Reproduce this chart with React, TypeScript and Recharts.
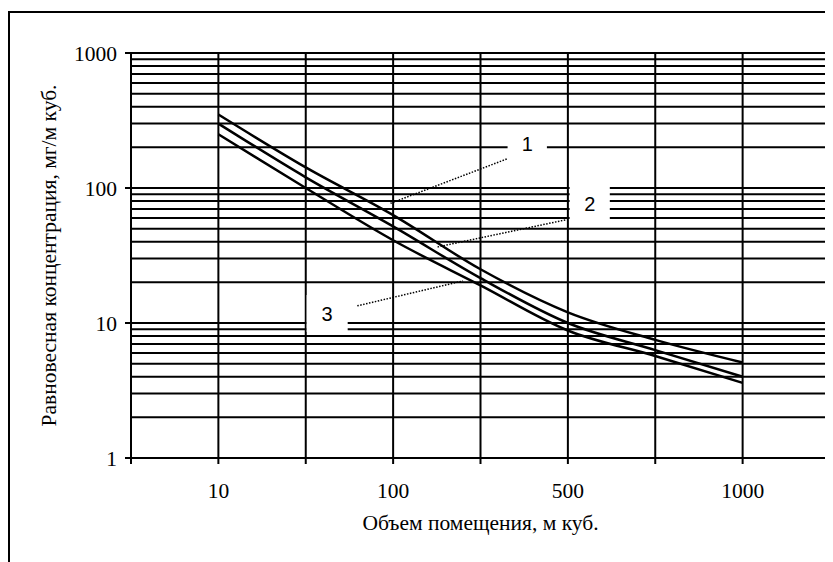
import React from 'react';
import {
  LineChart,
  Line,
  XAxis,
  YAxis,
  CartesianGrid,
  ReferenceArea,
  ReferenceLine,
} from 'recharts';

// positions 1..7 on the x scale, labelled every other one
const volumes = ['10', '30', '100', '300', '500', '700', '1000'];
const xTickLabels = ['', '10', '', '100', '', '500', '', '1000', ''];
const curve1 = [350, 142, 63, 25, 12, 7.5, 5.1];
const curve2 = [300, 120, 52, 21.5, 10, 6.3, 4];
const curve3 = [250, 100, 41, 19, 8.8, 5.7, 3.6];
const yTicks = [1, 10, 100, 1000];
const yGridValues = [
  2, 3, 4, 5, 6, 7, 8, 9, 10,
  20, 30, 40, 50, 60, 70, 80, 90, 100,
  200, 300, 400, 500, 600, 700, 800, 900, 1000,
];

const data = volumes.map((v, i) => ({
  pos: i + 1,
  volume: v,
  c1: curve1[i],
  c2: curve2[i],
  c3: curve3[i],
}));

const serif = '"Liberation Serif", "Times New Roman", serif';
const sans = '"Liberation Sans", Arial, sans-serif';
const labelStyle = { fontFamily: sans, fontSize: 20, fill: '#000' };
const textSize = 21.5;

export default function App() {
  return (
    <div style={{ position: 'relative', width: 825, height: 554, overflow: 'hidden' }}>
      <div
        style={{
          position: 'absolute',
          left: 0,
          top: 3,
          width: 1000,
          height: 1000,
          borderLeft: '2px solid #000',
          borderTop: '2px solid #000',
        }}
      />
      <LineChart
        width={825}
        height={554}
        data={data}
        margin={{ top: 45, right: 3, bottom: 24, left: 36 }}
        style={{ position: 'absolute', left: 0, top: 0 }}
      >
        <CartesianGrid
          stroke="#000"
          strokeWidth={2}
          horizontalValues={yGridValues}
          verticalValues={[0, 1, 2, 3, 4, 5, 6, 7, 8]}
        />
        <XAxis
          type="number"
          dataKey="pos"
          domain={[0, 8]}
          ticks={[0, 1, 2, 3, 4, 5, 6, 7, 8]}
          tickFormatter={(v: number) => xTickLabels[v]}
          height={80}
          tickSize={6}
          tickMargin={19}
          interval={0}
          axisLine={{ stroke: '#000', strokeWidth: 2 }}
          tickLine={{ stroke: '#000', strokeWidth: 2 }}
          tick={{ fill: '#000', fontFamily: serif, fontSize: textSize }}
          label={{
            value: 'Объем помещения, м куб.',
            position: 'insideBottom',
            offset: 8,
            style: { fill: '#000', fontFamily: serif, fontSize: textSize },
          }}
        />
        <YAxis
          scale="log"
          domain={[1, 1000]}
          ticks={yTicks}
          allowDataOverflow
          width={87}
          tickSize={6}
          tickMargin={8}
          interval={0}
          axisLine={{ stroke: '#000', strokeWidth: 2 }}
          tickLine={{ stroke: '#000', strokeWidth: 2 }}
          tick={{ fill: '#000', fontFamily: serif, fontSize: textSize }}
          label={{
            value: 'Равновесная концентрация, мг/м куб.',
            angle: -90,
            position: 'insideLeft',
            offset: 4,
            style: { fill: '#000', fontFamily: serif, fontSize: textSize, textAnchor: 'middle' },
          }}
        />
        <ReferenceArea
          x1={4.31}
          x2={4.76}
          y1={167}
          y2={268}
          fill="#fff"
          fillOpacity={1}
          stroke="none"
          label={{ value: '1', position: 'center', style: labelStyle }}
        />
        <ReferenceArea
          x1={5.02}
          x2={5.48}
          y1={56}
          y2={103}
          fill="#fff"
          fillOpacity={1}
          stroke="none"
          label={{ value: '2', position: 'center', style: labelStyle }}
        />
        <ReferenceArea
          x1={2.01}
          x2={2.48}
          y1={8.6}
          y2={16.1}
          fill="#fff"
          fillOpacity={1}
          stroke="none"
          label={{ value: '3', position: 'center', style: labelStyle }}
        />
        <ReferenceLine
          segment={[{ x: 4.3, y: 164 }, { x: 2.97, y: 77 }]}
          stroke="#000"
          strokeWidth={1.5}
          strokeDasharray="1.5 1.5"
        />
        <ReferenceLine
          segment={[{ x: 4.97, y: 58 }, { x: 3.5, y: 36.5 }]}
          stroke="#000"
          strokeWidth={1.5}
          strokeDasharray="1.5 1.5"
        />
        <ReferenceLine
          segment={[{ x: 2.59, y: 13.4 }, { x: 3.8, y: 20.5 }]}
          stroke="#000"
          strokeWidth={1.5}
          strokeDasharray="1.5 1.5"
        />
        <Line type="monotone" dataKey="c1" stroke="#000" strokeWidth={2.5} dot={false} isAnimationActive={false} />
        <Line type="monotone" dataKey="c2" stroke="#000" strokeWidth={2.5} dot={false} isAnimationActive={false} />
        <Line type="monotone" dataKey="c3" stroke="#000" strokeWidth={2.5} dot={false} isAnimationActive={false} />
      </LineChart>
    </div>
  );
}
